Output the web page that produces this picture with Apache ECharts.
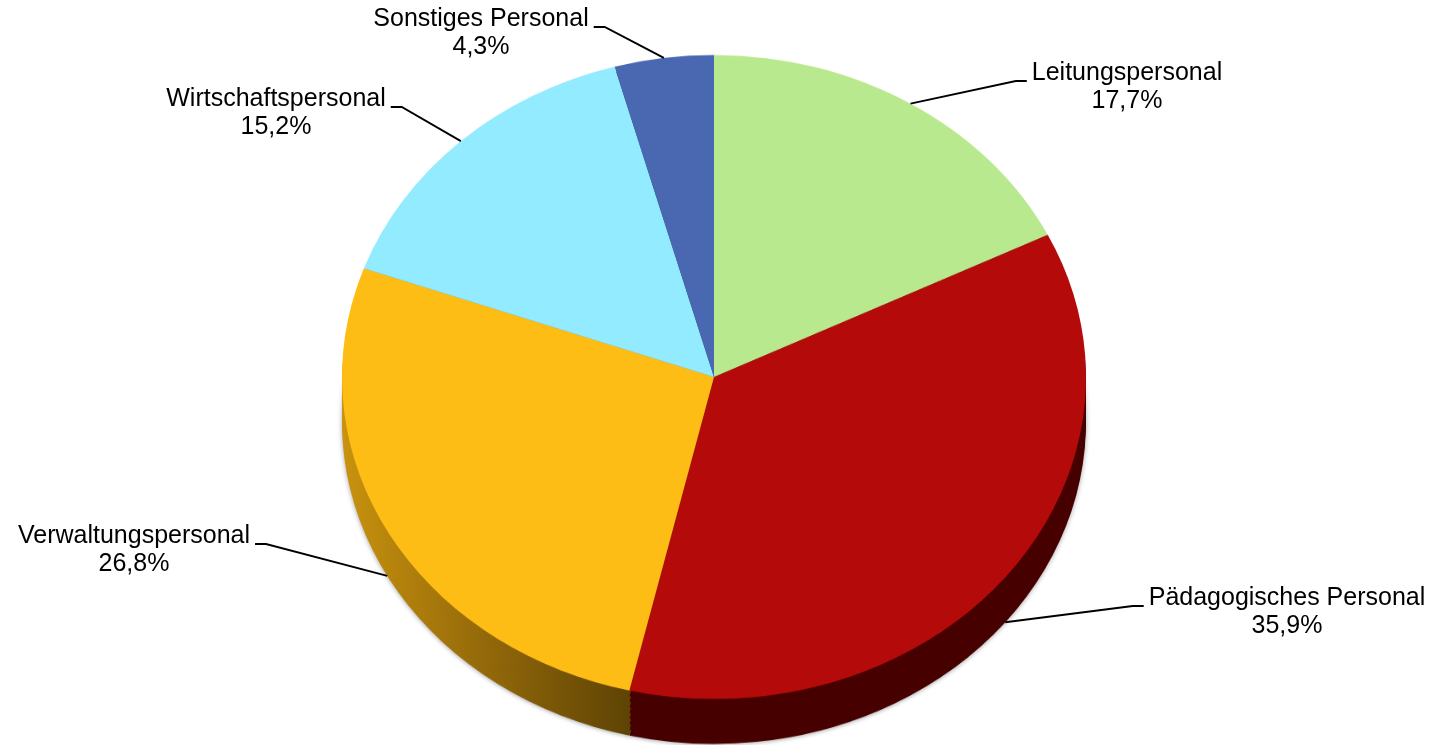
<!DOCTYPE html>
<html><head><meta charset="utf-8">
<script src="https://cdn.jsdelivr.net/npm/echarts@6/dist/echarts.min.js"></script>
<style>
html,body{margin:0;padding:0;background:#fff;overflow:hidden;}
#pie{position:absolute;left:0;top:0;width:1435px;height:861px;transform:scaleY(0.865591);transform-origin:0 0;}
#labels{position:absolute;left:0;top:0;width:1435px;height:745px;}
</style></head><body>
<div id="pie"></div><div id="labels"></div>
<script>
// ---- data ----
const categories = ['Leitungspersonal', 'Pädagogisches Personal', 'Verwaltungspersonal', 'Wirtschaftspersonal', 'Sonstiges Personal'];
const shares = [17.7, 35.9, 26.8, 15.2, 4.3];

// ---- style / layout ----
const topColors = ['#b9e98e', '#b40a0a', '#fdbd15', '#92ebfe', '#4a67b1'];
const sideColors = ['#6f8c55', '#470000',
  {type: 'linear', x: 342, y: 0, x2: 632, y2: 0, global: true,
   colorStops: [{offset: 0, color: '#c9930e'}, {offset: 0.5, color: '#93680a'}, {offset: 1, color: '#5d4304'}]},
  '#57909a', '#2c3e6a'];
const CX = 714, CY = 377, R = 372, RY = 322, DEPTH = 45;
const K = RY / R;
const NLAYERS = 8;
const labelPos = [[1127, 87], [1287, 612], [134, 550], [276, 113], [481, 33]];
const FONT = "'Liberation Sans', Arial, sans-serif";

const fmt = v => v.toFixed(1).replace('.', ',') + '%';

// ---- chart A: the (vertically squashed) pie with its side wall ----
const chartA = echarts.init(document.getElementById('pie'), null, {renderer: 'canvas'});
const seriesA = [];
for (let l = NLAYERS; l >= 1; l--) {
  const off = DEPTH / K * l / NLAYERS;
  seriesA.push({
    type: 'pie', silent: true, animation: false, startAngle: 90,
    center: [CX, CY / K + off], radius: R,
    label: {show: false}, labelLine: {show: false}, emphasis: {disabled: true},
    itemStyle: l === NLAYERS ? {shadowBlur: 5, shadowColor: 'rgba(0,0,0,0.35)', shadowOffsetY: 1} : {},
    data: categories.map((c, i) => ({name: c, value: shares[i], itemStyle: {color: sideColors[i]}}))
  });
}
seriesA.push({
  type: 'pie', silent: true, animation: false, startAngle: 90,
  center: [CX, CY / K], radius: R,
  label: {show: false}, labelLine: {show: false}, emphasis: {disabled: true},
  data: categories.map((c, i) => ({name: c, value: shares[i], itemStyle: {color: topColors[i]}}))
});
chartA.setOption({animation: false, series: seriesA});

// ---- chart B: labels with leader lines ----
const total = shares.reduce((a, b) => a + b, 0);
const cum = [];
shares.reduce((acc, v, i) => { cum[i] = acc; return acc + v; }, 0);

const chartB = echarts.init(document.getElementById('labels'), null, {renderer: 'canvas'});
chartB.setOption({
  animation: false,
  series: [{
    type: 'pie', silent: true, startAngle: 90,
    center: [CX, CY], radius: R,
    itemStyle: {color: 'rgba(0,0,0,0)'},
    emphasis: {disabled: true},
    data: categories.map((c, i) => ({name: c, value: shares[i]})),
    label: {
      show: true, position: 'outside',
      formatter: p => p.name + '\n' + fmt(p.value),
      fontFamily: FONT, fontSize: 25, lineHeight: 28, color: '#000', align: 'center'
    },
    labelLine: {show: true, smooth: false, lineStyle: {color: '#000', width: 1.9}},
    labelLayout: function (params) {
      const i = params.dataIndex;
      const lx = labelPos[i][0], ly = labelPos[i][1];
      const w = params.labelRect.width;
      const isLeft = lx < CX;
      const edge = isLeft ? lx + w / 2 + 5 : lx - w / 2 - 5;
      const bend = isLeft ? edge + 11 : edge - 11;
      const segY = ly - 6;
      const mid = (cum[i] + shares[i] / 2) / total * 2 * Math.PI;
      const sx = CX + R * Math.sin(mid);
      const sy = CY - RY * Math.cos(mid) + (Math.cos(mid) < 0 ? DEPTH : 0);
      return {
        x: lx, y: ly, align: 'center', verticalAlign: 'middle',
        labelLinePoints: [[sx, sy], [bend, segY], [edge, segY]]
      };
    }
  }]
});
</script>
</body></html>
